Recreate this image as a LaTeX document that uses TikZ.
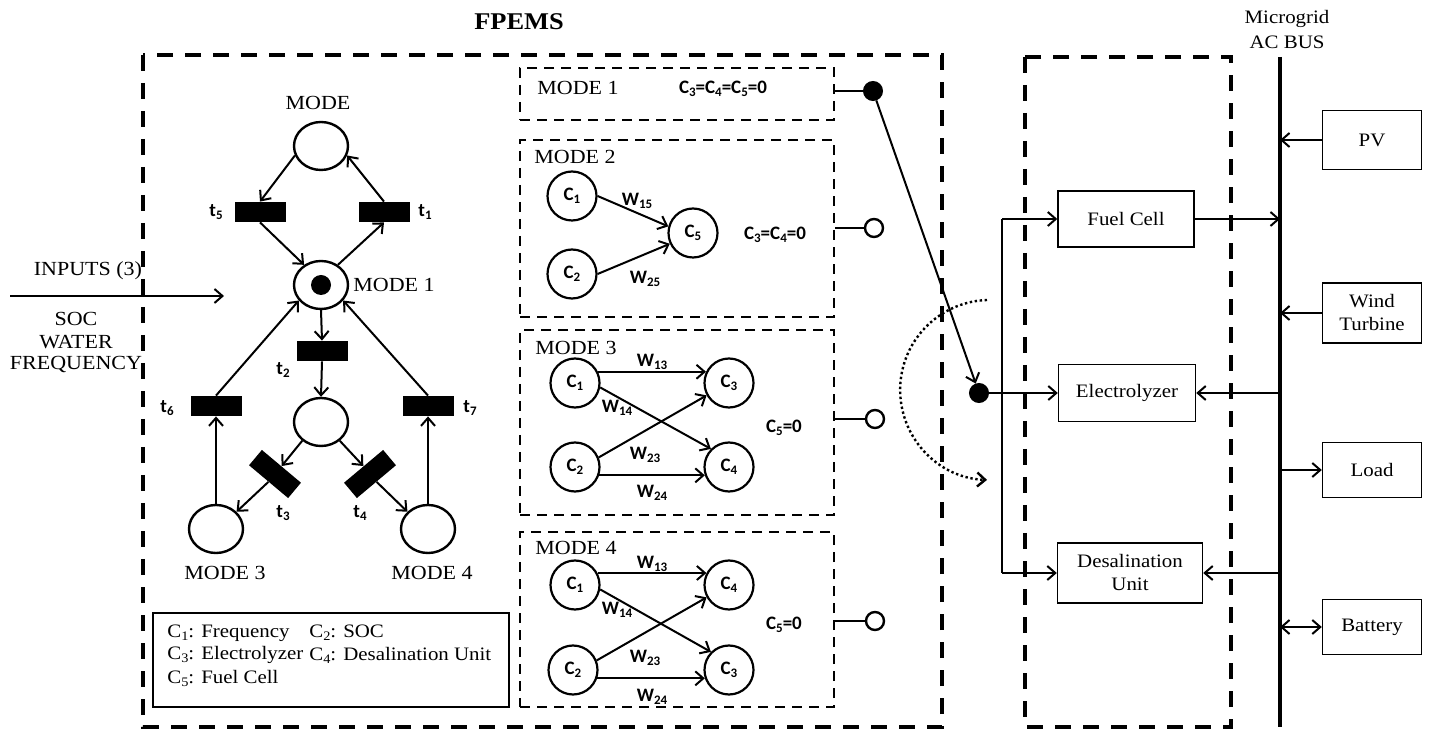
\documentclass[tikz,border=0pt]{standalone}
\usepackage{fontspec}
\setmainfont{Liberation Serif}[FakeStretch=1.1]
\newfontfamily\lblfont{Carlito}
\usetikzlibrary{arrows.meta,shapes.geometric}

% lowered small index used in C_i, W_ij and t_i labels
\newcommand\lsub[1]{\raisebox{-0.35ex}{\fontsize{6.5}{7}\selectfont #1}}

\tikzset{
  x=0.5pt, y=-0.5pt,
  lbl/.style={font=\lblfont\bfseries\fontsize{9.5}{11}\selectfont},
  txt/.style={font=\fontsize{10}{12}\selectfont},
  smalltxt/.style={font=\fontsize{9.5}{11.5}\selectfont},
  place/.style={draw, line width=1.2pt, ellipse, minimum width=27pt, minimum height=24pt, inner sep=0pt},
  trans/.style={fill=black, minimum width=25.5pt, minimum height=10pt, inner sep=0pt},
  cnode/.style={draw, circle, line width=1.1pt, minimum size=24.5pt, inner sep=0pt, lbl},
  arrowtip/.style={-{Straight Barb[length=4pt,width=7pt]}},
  arr/.style={line width=1pt, arrowtip},
  bigdash/.style={line width=2pt, dash pattern=on 8pt off 6pt},
  modebox/.style={draw, line width=1.2pt, dash pattern=on 5pt off 3.5pt, minimum width=157pt, inner sep=0pt},
  blk/.style={draw, line width=0.7pt, inner sep=0pt, align=center, smalltxt},
  swon/.style={circle, fill=black, draw, line width=1pt, minimum size=9pt, inner sep=0pt},
  swoff/.style={circle, fill=white, draw, line width=1.2pt, minimum size=9pt, inner sep=0pt},
}

\begin{document}
\begin{tikzpicture}
\useasboundingbox (0,0) rectangle (1434,731);

% ---------- frames ----------
\node[font=\bfseries\fontsize{12}{14}\selectfont] (title) at (519,22) {FPEMS};
\draw[bigdash] (143,55) rectangle (942,727);
\draw[bigdash] (1025,57) rectangle (1231,727);

% ---------- inputs ----------
\node[txt] (inputs) at (88,271) {INPUTS (3)};
\node[txt] (soc) at (76,319) {SOC};
\node[txt] (water) at (76,342) {WATER};
\node[txt] (freq) at (76,365) {FREQUENCY};
\coordinate (inL) at (10,296);
\coordinate (inR) at (224,296);
\draw[arr] (inL) -- (inR);

% ---------- Petri net ----------
\node[place] (pTop) at (321,146) {};
\node[place] (pM1) at (321,285) {};
\node[circle, fill=black, minimum size=10pt, inner sep=0pt] (token) at (pM1) {};
\node[place] (pMid) at (321,422) {};
\node[place] (pM3) at (216,529) {};
\node[place] (pM4) at (428,529) {};

\node[trans] (t5) at (260,212) {};
\node[trans] (t1) at (384,212) {};
\node[trans] (t2) at (322,351) {};
\node[trans] (t6) at (216,406) {};
\node[trans] (t7) at (428,406) {};
\node[trans, rotate=-40] (t3) at (275,474) {};
\node[trans, rotate=40] (t4) at (370,474) {};

\node[txt] (lMode) at (318,103) {MODE};
\node[txt] (lMode1) at (394,285) {MODE 1};
\node[txt] (lMode3) at (225,573) {MODE 3};
\node[txt] (lMode4) at (432,573) {MODE 4};

\node[lbl] (lt5) at (216,212) {t\lsub{5}};
\node[lbl] (lt1) at (425,212) {t\lsub{1}};
\node[lbl] (lt2) at (283,370) {t\lsub{2}};
\node[lbl] (lt6) at (167,408) {t\lsub{6}};
\node[lbl] (lt7) at (470,408) {t\lsub{7}};
\node[lbl] (lt3) at (283,513) {t\lsub{3}};
\node[lbl] (lt4) at (360,513) {t\lsub{4}};

\draw[arr] (pTop.200) -- (t5.north);
\draw[arr] (t5.south) -- (pM1.130);
\draw[arr] (pM1.50) -- (t1.south);
\draw[arr] (t1.north) -- (pTop.-20);
\draw[arr] (pM1.south) -- (t2.north);
\draw[arr] (t2.south) -- (pMid.north);
\draw[arr] (pMid.225) -- (t3.north);
\draw[arr] (t3.south) -- (pM3.40);
\draw[arr] (pMid.-45) -- (t4.north);
\draw[arr] (t4.south) -- (pM4.140);
\draw[arr] (pM3.north) -- (t6.south);
\draw[arr] (t6.north) -- (pM1.215);
\draw[arr] (pM4.north) -- (t7.south);
\draw[arr] (t7.north) -- (pM1.-35);

% ---------- legend ----------
\node[draw, line width=0.6pt, minimum width=178pt, minimum height=47pt, inner sep=0pt] (legend) at (331,660) {};
\node[smalltxt, anchor=west, inner sep=0pt] (lg1) at (167,633) {C\lsub{1}: Frequency};
\node[smalltxt, anchor=west, inner sep=0pt] (lg2) at (309,633) {C\lsub{2}: SOC};
\node[smalltxt, anchor=west, inner sep=0pt] (lg3) at (167,655) {C\lsub{3}: Electrolyzer};
\node[smalltxt, anchor=west, inner sep=0pt] (lg4) at (309,655) {C\lsub{4}: Desalination Unit};
\node[smalltxt, anchor=west, inner sep=0pt] (lg5) at (167,678) {C\lsub{5}: Fuel Cell};

% ---------- mode panels ----------
\node[modebox, minimum height=26pt] (m1box) at (677,94) {};
\node[modebox, minimum height=88.5pt] (m2box) at (677,228.5) {};
\node[modebox, minimum height=92.5pt] (m3box) at (677,422.5) {};
\node[modebox, minimum height=87.5pt] (m4box) at (677,619.5) {};

\node[txt] (m1lbl) at (578,88) {MODE 1};
\node[txt] (m2lbl) at (575,157) {MODE 2};
\node[txt] (m3lbl) at (576,348) {MODE 3};
\node[txt] (m4lbl) at (576,548) {MODE 4};

\node[lbl] (m1cond) at (723,89) {C\lsub{3}=C\lsub{4}=C\lsub{5}=0};
\node[lbl] (m2cond) at (775,235) {C\lsub{3}=C\lsub{4}=0};
\node[lbl] (m3cond) at (784,428) {C\lsub{5}=0};
\node[lbl] (m4cond) at (784,625) {C\lsub{5}=0};

% mode 2
\node[cnode] (a1) at (572,196) {C\lsub{1}};
\node[cnode] (a2) at (572,274) {C\lsub{2}};
\node[cnode] (a5) at (693,233) {C\lsub{5}};
\draw[arr] (a1.east) -- (a5.165);
\draw[arr] (a2.east) -- (a5.205);
\node[lbl] (w15) at (637,201) {W\lsub{15}};
\node[lbl] (w25) at (645,279) {W\lsub{25}};

% mode 3
\node[cnode] (b1) at (575,383) {C\lsub{1}};
\node[cnode] (b2) at (575,467) {C\lsub{2}};
\node[cnode] (b3) at (729,383) {C\lsub{3}};
\node[cnode] (b4) at (729,467) {C\lsub{4}};
\draw[arr] (b1.26) -- (b3.154);
\draw[arr] (b1.-10) -- (b4.135);
\draw[arr] (b2.22) -- (b3.209);
\draw[arr] (b2.-19) -- (b4.199);
\node[lbl] (b13) at (652,362) {W\lsub{13}};
\node[lbl] (b14) at (617,408) {W\lsub{14}};
\node[lbl] (b23) at (645,455) {W\lsub{23}};
\node[lbl] (b24) at (652,493) {W\lsub{24}};

% mode 4
\node[cnode] (c1) at (575,585) {C\lsub{1}};
\node[cnode] (c2) at (573,670) {C\lsub{2}};
\node[cnode] (c4) at (729,585) {C\lsub{4}};
\node[cnode] (c3) at (729,670) {C\lsub{3}};
\draw[arr] (c1.28) -- (c4.152);
\draw[arr] (c1.-10) -- (c3.135);
\draw[arr] (c2.22) -- (c4.209);
\draw[arr] (c2.-19) -- (c3.199);
\node[lbl] (c13) at (652,564) {W\lsub{13}};
\node[lbl] (c14) at (617,610) {W\lsub{14}};
\node[lbl] (c23) at (645,658) {W\lsub{23}};
\node[lbl] (c24) at (652,697) {W\lsub{24}};

% ---------- selector switch ----------
\node[swon] (sw1) at (873,91) {};
\node[swoff] (sw2) at (874,228) {};
\node[swoff] (sw3) at (875,419) {};
\node[swoff] (sw4) at (875,621) {};
\node[swon] (swc) at (979,393) {};
\draw[line width=1pt] (m1box.east |- sw1) -- (sw1);
\draw[line width=1pt] (m2box.east |- sw2) -- (sw2);
\draw[line width=1pt] (m3box.east |- sw3) -- (sw3);
\draw[line width=1pt] (m4box.east |- sw4) -- (sw4);
\draw[arr] (sw1) -- (swc);

\coordinate (arcS) at (987,300);
\draw[line width=1.2pt, dash pattern=on 1.2pt off 1.3pt, arrowtip] (arcS) arc[start angle=-92, end angle=-268, radius=90];

% ---------- loads inside the second frame ----------
\node[blk, minimum width=68pt, minimum height=28pt] (fc) at (1126,219) {Fuel Cell};
\node[blk, minimum width=68.5pt, minimum height=28.5pt] (el) at (1127,393) {Electrolyzer};
\node[blk, minimum width=72.5pt, minimum height=30pt, font=\fontsize{9.5}{11.5}\selectfont] (de) at (1130,573) {Desalination\\Unit};

\coordinate (fdT) at (1002,219);
\coordinate (fdB) at (1002,573);
\draw[line width=1pt] (fdT) -- (fdB);
\draw[arr] (fdT) -- (fc.west);
\draw[arr] (fdB) -- (de.west);
\draw[arr] (swc) -- (el.west);

% ---------- AC bus ----------
\node[font=\fontsize{9.5}{12.5}\selectfont, align=center] (busLbl) at (1287,30) {Microgrid\\AC BUS};
\coordinate (busT) at (1280,57);
\coordinate (busB) at (1280,727);
\draw[line width=2pt] (busT) -- (busB);

\node[blk, minimum width=49.5pt, minimum height=29.5pt] (pv) at (1372,140) {PV};
\node[blk, minimum width=49.5pt, minimum height=30pt] (wt) at (1372,313) {Wind\\Turbine};
\node[blk, minimum width=49.5pt, minimum height=27.5pt] (ld) at (1372,470) {Load};
\node[blk, minimum width=49.5pt, minimum height=27.5pt] (bt) at (1372,627) {Battery};

\draw[arr] (fc.east) -- (fc.east -| busT);
\draw[arr] (el.east -| busT) -- (el.east);
\draw[arr] (de.east -| busT) -- (de.east);
\draw[arr] (pv.west) -- (pv.west -| busT);
\draw[arr] (wt.west) -- (wt.west -| busT);
\draw[arr] (ld.west -| busT) -- (ld.west);
\draw[line width=1pt, {Straight Barb[length=4pt,width=7pt]}-{Straight Barb[length=4pt,width=7pt]}] (bt.west -| busT) -- (bt.west);
\end{tikzpicture}
\end{document}
